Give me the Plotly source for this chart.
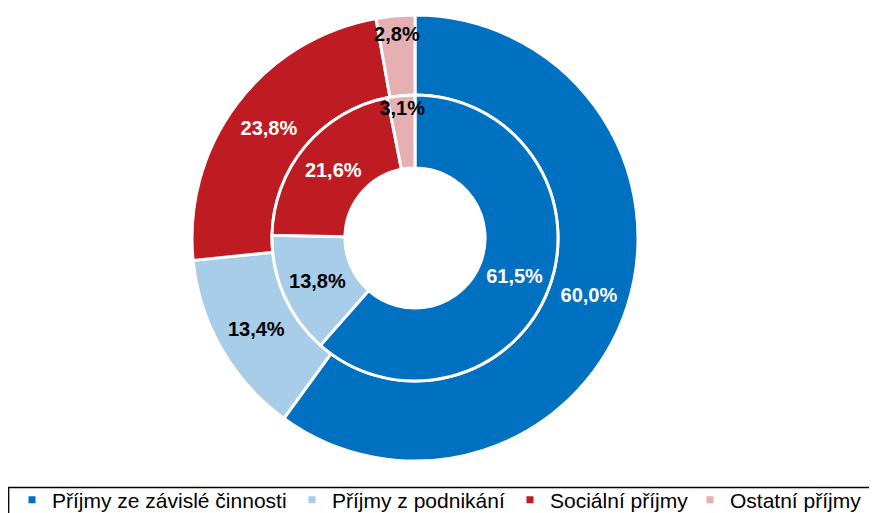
import plotly.graph_objects as go

categories = ["Příjmy ze závislé činnosti", "Příjmy z podnikání", "Sociální příjmy", "Ostatní příjmy"]
outer_values = [60.0, 13.4, 23.8, 2.8]
inner_values = [61.5, 13.8, 21.6, 3.1]
colors = ["#0070C0", "#A7CDE8", "#BE1B23", "#E6B0B2"]
text_colors = ["white", "black", "white", "black"]

# the page places the figure 8px from the window's top-left corner
OFF = 8
W, H = 877 - OFF, 513 - OFF


def fx(px):
    return (px - OFF) / W


def fy(py):
    return 1 - (py - OFF) / H


# left pixel edge of each legend entry's text in the reference window
legend_text_x = [52, 332, 550, 730]


def fmt(v):
    return f"{v:.1f}".replace(".", ",") + "%"


fig = go.Figure()

fig.add_trace(go.Pie(
    values=outer_values, labels=categories, text=[fmt(v) for v in outer_values],
    textinfo="text", textposition="inside", insidetextorientation="horizontal",
    sort=False, direction="clockwise", rotation=0, hole=0.641,
    marker=dict(colors=colors, line=dict(color="white", width=3)),
    textfont=dict(family="Liberation Sans, Arial", size=20, color=text_colors, weight="bold"),
    domain=dict(x=[fx(192), fx(638)], y=[fy(461), fy(15)]),
    showlegend=False, hoverinfo="label+text",
))

fig.add_trace(go.Pie(
    values=inner_values, labels=categories, text=[fmt(v) for v in inner_values],
    textinfo="text", textposition="inside", insidetextorientation="horizontal",
    sort=False, direction="clockwise", rotation=0, hole=0.49,
    marker=dict(colors=colors, line=dict(color="white", width=3)),
    textfont=dict(family="Liberation Sans, Arial", size=20, color=text_colors, weight="bold"),
    domain=dict(x=[fx(272), fx(558)], y=[fy(381), fy(95)]),
    showlegend=False, hoverinfo="label+text",
))

legend_layout = {}
for i, (name, c, tx) in enumerate(zip(categories, colors, legend_text_x)):
    key = "legend" if i == 0 else f"legend{i + 1}"
    fig.add_trace(go.Scatter(
        x=[None], y=[None], mode="markers", name=name, legend=key,
        marker=dict(symbol="square", size=7, color=c),
    ))
    legend_layout[key] = dict(
        orientation="h", x=fx(tx - 40), xanchor="left", y=fy(500), yanchor="middle",
        font=dict(family="Liberation Sans, Arial", size=21, color="black"),
        bgcolor="rgba(0,0,0,0)", borderwidth=0, itemclick=False, itemdoubleclick=False,
        itemwidth=30,
    )

fig.update_layout(
    width=W, height=H,
    margin=dict(l=0, r=0, t=0, b=0, pad=0, autoexpand=False),
    paper_bgcolor="white", plot_bgcolor="white",
    xaxis=dict(visible=False), yaxis=dict(visible=False),
    uniformtext=dict(minsize=20, mode="show"),
    showlegend=True,
    shapes=[dict(
        type="rect", xref="paper", yref="paper",
        x0=fx(8.7), x1=1.05, y0=-0.1, y1=fy(487.5),
        line=dict(color="black", width=1.3), fillcolor="rgba(0,0,0,0)",
    )],
    **legend_layout,
)

fig.write_html("out.html")
